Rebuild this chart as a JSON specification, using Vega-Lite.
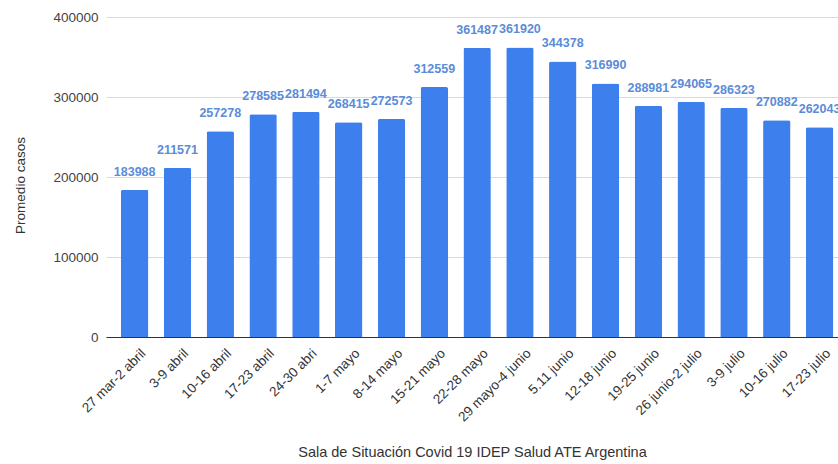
{
  "$schema": "https://vega.github.io/schema/vega-lite/v6.json",
  "autosize": {"type": "none"},
  "padding": {"left": 106, "top": 17, "right": 0, "bottom": 127},
  "width": 732,
  "height": 320,
  "background": "white",
  "config": {
    "view": {"stroke": null},
    "font": "Liberation Sans"
  },
  "data": {
    "values": [
      {"semana": "27 mar-2 abril", "casos": 183988},
      {"semana": "3-9 abril", "casos": 211571},
      {"semana": "10-16 abril", "casos": 257278},
      {"semana": "17-23 abril", "casos": 278585},
      {"semana": "24-30 abri", "casos": 281494},
      {"semana": "1-7 mayo", "casos": 268415},
      {"semana": "8-14 mayo", "casos": 272573},
      {"semana": "15-21 mayo", "casos": 312559},
      {"semana": "22-28 mayo", "casos": 361487},
      {"semana": "29 mayo-4 junio", "casos": 361920},
      {"semana": "5.11 junio", "casos": 344378},
      {"semana": "12-18 junio", "casos": 316990},
      {"semana": "19-25 junio", "casos": 288981},
      {"semana": "26 junio-2 julio", "casos": 294065},
      {"semana": "3-9 julio", "casos": 286323},
      {"semana": "10-16 julio", "casos": 270882},
      {"semana": "17-23 julio", "casos": 262043}
    ]
  },
  "encoding": {
    "x": {
      "field": "semana",
      "type": "nominal",
      "sort": null,
      "scale": {"paddingInner": 0.36, "paddingOuter": 0.23, "align": 0.76},
      "axis": {
        "title": "Sala de Situación Covid 19 IDEP Salud ATE Argentina",
        "titleFontSize": 14.5,
        "titleFontWeight": "normal",
        "titleColor": "#333333",
        "titleY": 115,
        "titleBaseline": "middle",
        "labelAngle": -45,
        "labelAlign": "right",
        "labelBaseline": "top",
        "labelFontSize": 13.5,
        "labelColor": "#333333",
        "labelPadding": 9,
        "labelOffset": 4,
        "ticks": false,
        "domainColor": "#333333",
        "domainWidth": 1,
        "grid": false
      }
    },
    "y": {
      "field": "casos",
      "type": "quantitative",
      "scale": {"domain": [0, 400000], "nice": false},
      "axis": {
        "title": "Promedio casos",
        "titleFontSize": 13.5,
        "titleFontWeight": "normal",
        "titleColor": "#333333",
        "titleX": -86,
        "titleY": 168,
        "titleAngle": -90,
        "titleAlign": "center",
        "titleBaseline": "middle",
        "values": [0, 100000, 200000, 300000, 400000],
        "format": "d",
        "labelFontSize": 13.5,
        "labelColor": "#444444",
        "labelPadding": 8,
        "ticks": false,
        "domain": false,
        "grid": true,
        "gridColor": "#d9d9d9",
        "gridWidth": 1
      }
    }
  },
  "layer": [
    {
      "mark": {"type": "bar", "color": "#3d7fec", "cornerRadiusTopLeft": 2, "cornerRadiusTopRight": 2}
    },
    {
      "mark": {
        "type": "text",
        "dy": -18,
        "baseline": "middle",
        "align": "center",
        "fontSize": 12.5,
        "fontWeight": "bold",
        "color": "#5b8cd8"
      },
      "encoding": {
        "text": {"field": "casos", "type": "quantitative", "format": "d"}
      }
    }
  ]
}
